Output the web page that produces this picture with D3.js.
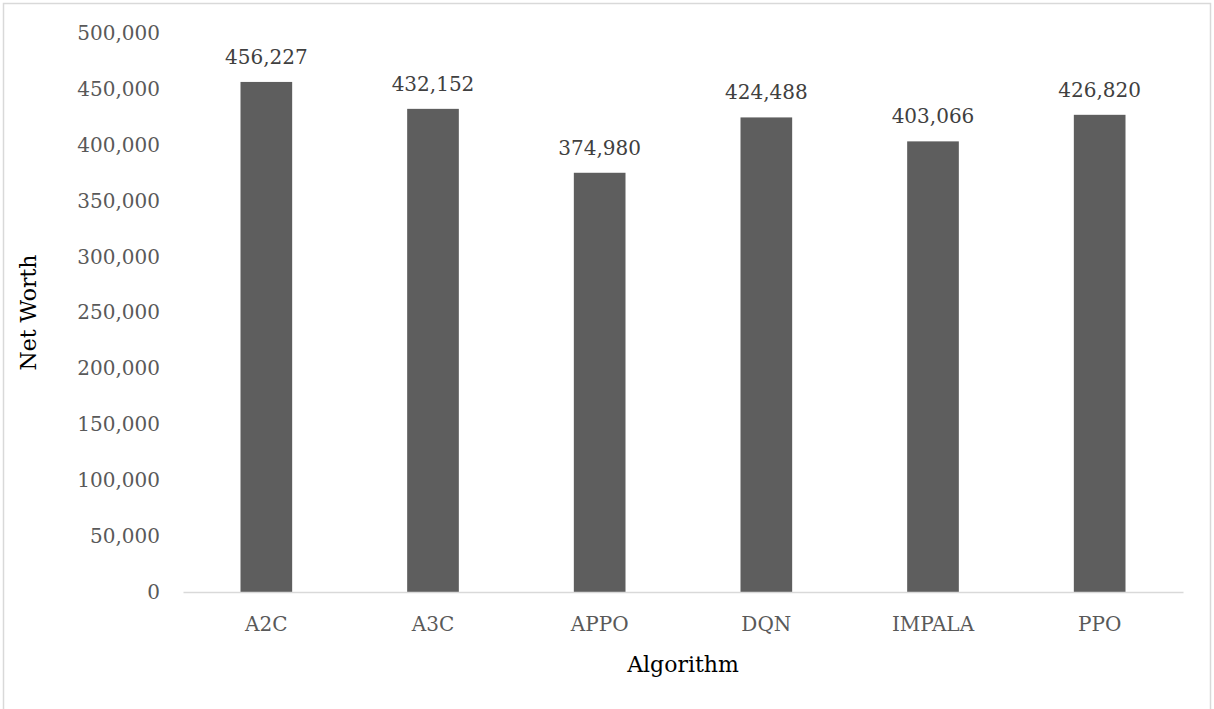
<!DOCTYPE html>
<html>
<head>
<meta charset="utf-8">
<script src="https://cdn.jsdelivr.net/npm/d3@7"></script>
<style>
  body { margin: 0; background: #fff; }
  svg { display: block; font-family: "DejaVu Serif", serif; }
</style>
</head>
<body>
<div id="chart"></div>
<script>
// Data
const algorithms = ["A2C", "A3C", "APPO", "DQN", "IMPALA", "PPO"];
const netWorth = [456227, 432152, 374980, 424488, 403066, 426820];
const yTicks = [0, 50000, 100000, 150000, 200000, 250000, 300000, 350000, 400000, 450000, 500000];

function drawChart() {
  const W = 1214, H = 709;
  const margin = { top: 33, right: 31, bottom: 117, left: 183 };
  const width = W - margin.left - margin.right;
  const height = H - margin.top - margin.bottom;

  const svg = d3.select("#chart").append("svg")
    .attr("width", W)
    .attr("height", H);

  // outer border
  svg.append("rect")
    .attr("x", 3.5).attr("y", 3.5)
    .attr("width", 1207).attr("height", 710)
    .attr("fill", "none")
    .attr("stroke", "#d9d9d9")
    .attr("stroke-width", 1.5);

  const g = svg.append("g")
    .attr("transform", `translate(${margin.left},${margin.top})`);

  const x = d3.scaleBand()
    .domain(algorithms)
    .range([0, width])
    .paddingInner(0.69)
    .paddingOuter(0.345);

  const y = d3.scaleLinear()
    .domain([0, 500000])
    .range([height, 0]);

  const fmt = d3.format(",");

  // y axis labels (no line)
  const yAxis = g.append("g")
    .call(d3.axisLeft(y).tickValues(yTicks).tickFormat(fmt).tickSize(0).tickPadding(23));
  yAxis.select(".domain").remove();
  yAxis.selectAll("text")
    .attr("font-family", "DejaVu Serif, serif")
    .attr("font-size", 20)
    .attr("fill", "#595959");

  // bars
  g.selectAll(".bar")
    .data(algorithms)
    .enter().append("rect")
    .attr("class", "bar")
    .attr("x", d => x(d))
    .attr("width", x.bandwidth())
    .attr("y", (d, i) => y(netWorth[i]))
    .attr("height", (d, i) => height - y(netWorth[i]))
    .attr("fill", "#5e5e5e");

  // value labels
  g.selectAll(".val")
    .data(algorithms)
    .enter().append("text")
    .attr("class", "val")
    .attr("x", d => x(d) + x.bandwidth() / 2)
    .attr("y", (d, i) => y(netWorth[i]) - 18)
    .attr("text-anchor", "middle")
    .attr("font-size", 20)
    .attr("fill", "#404040")
    .text((d, i) => fmt(netWorth[i]));

  // x axis
  const xAxis = g.append("g")
    .attr("transform", `translate(0,${height})`)
    .call(d3.axisBottom(x).tickSize(0).tickPadding(25));
  xAxis.select(".domain")
    .attr("stroke", "#d9d9d9")
    .attr("stroke-width", 1.5);
  xAxis.selectAll("text")
    .attr("font-family", "DejaVu Serif, serif")
    .attr("font-size", 20)
    .attr("fill", "#595959");

  // axis titles
  svg.append("text")
    .attr("x", margin.left + width / 2)
    .attr("y", 672)
    .attr("text-anchor", "middle")
    .attr("font-size", 22)
    .attr("fill", "#000")
    .text("Algorithm");

  svg.append("text")
    .attr("transform", `translate(36,${margin.top + height / 2}) rotate(-90)`)
    .attr("text-anchor", "middle")
    .attr("font-size", 22)
    .attr("fill", "#000")
    .text("Net Worth");
}

drawChart();
</script>
</body>
</html>
